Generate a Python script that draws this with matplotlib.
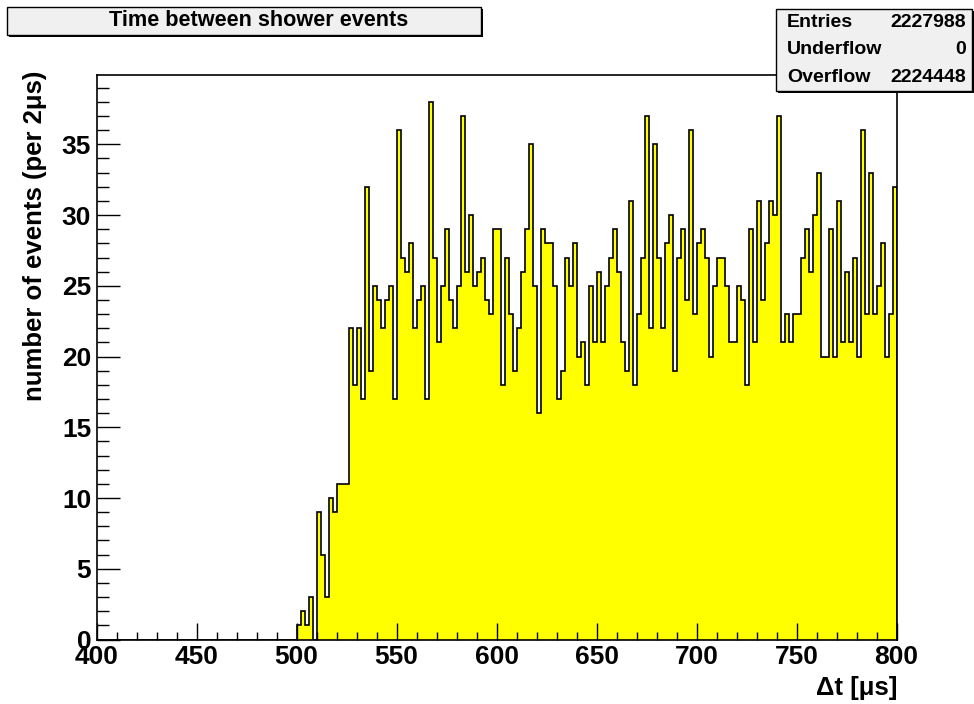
import numpy as np
import matplotlib
matplotlib.use("Agg")
import matplotlib.pyplot as plt
from matplotlib.patches import Rectangle


FIG_W, FIG_H = 974, 704

# histogram range and binning (2 us per bin)
T_MIN = 400
T_MAX = 800
BIN_WIDTH = 2

# counts per bin; bins from 400 to 500 are empty
counts_from_500 = [
    1, 2, 1, 3, 0, 9, 6, 3, 10, 9,
    11, 11, 11, 22, 18, 22, 17, 32, 19, 25,
    24, 22, 24, 25, 17, 36, 27, 26, 28, 22,
    24, 25, 17, 38, 27, 21, 25, 29, 24, 22,
    25, 37, 26, 30, 25, 26, 27, 24, 23, 29,
    29, 18, 27, 23, 19, 22, 26, 29, 35, 25,
    16, 29, 28, 28, 25, 17, 19, 27, 25, 28,
    20, 21, 18, 25, 21, 26, 21, 25, 27, 29,
    26, 21, 19, 31, 18, 23, 27, 37, 22, 35,
    27, 22, 28, 30, 19, 27, 29, 24, 36, 23,
    28, 29, 27, 20, 25, 27, 27, 25, 21, 21,
    25, 24, 18, 29, 21, 31, 24, 28, 31, 30,
    37, 21, 23, 21, 23, 23, 27, 29, 26, 30,
    33, 20, 20, 29, 20, 31, 21, 26, 21, 27,
    20, 36, 23, 33, 23, 25, 28, 20, 23, 32,
]
counts = [0] * 50 + counts_from_500

stat_labels = ["Entries", "Underflow", "Overflow"]
stat_values = ["2227988", "0", "2224448"]

TITLE = "Time between shower events"
X_TITLE = "\u0394t [\u03bcs]"
Y_TITLE = "number of events (per 2\u03bcs)"

FONT = "Liberation Sans"


def fx(x):
    return x / FIG_W


def fy(y):
    return 1 - y / FIG_H


def draw_box(fig, x0, y0, x1, y1):
    """Grey box with a dark shadow on the right and bottom edge."""
    w = fx(x1) - fx(x0)
    h = fy(y0) - fy(y1)
    shadow = Rectangle((fx(x0 + 2), fy(y1 + 2)), w, h, transform=fig.transFigure,
                       facecolor="black", edgecolor="none", zorder=5)
    box = Rectangle((fx(x0), fy(y1)), w, h, transform=fig.transFigure,
                    facecolor="#f0f0f0", edgecolor="black", linewidth=1.0, zorder=6)
    fig.add_artist(shadow)
    fig.add_artist(box)


def main():
    plt.rcParams["font.family"] = [FONT, "DejaVu Sans"]
    plt.rcParams["font.weight"] = "bold"

    fig = plt.figure(figsize=(FIG_W / 100, FIG_H / 100), dpi=100)
    ax = fig.add_axes([fx(96.7), fy(639.5), fx(896.5) - fx(96.7), fy(75) - fy(639.5)])

    edges = np.arange(T_MIN, T_MAX + BIN_WIDTH, BIN_WIDTH)
    ax.stairs(counts, edges, fill=True, color="#ffff00", baseline=0)
    ax.stairs(counts, edges, fill=False, color="black", linewidth=1.2, baseline=0)

    ax.set_xlim(T_MIN, T_MAX)
    ax.set_ylim(0, 1.05 * max(counts))

    ax.set_xticks(np.arange(400, 801, 50))
    ax.set_xticks(np.arange(400, 801, 10), minor=True)
    ax.set_yticks(np.arange(0, 36, 5))
    ax.set_yticks(np.arange(0, 40, 1), minor=True)

    ax.tick_params(axis="both", which="both", direction="in", top=False, right=False,
                   width=1.0, labelsize=19, colors="black")
    ax.tick_params(axis="x", which="major", length=12.2, pad=4)
    ax.tick_params(axis="x", which="minor", length=6.1)
    ax.tick_params(axis="y", which="major", length=16.6, pad=4)
    ax.tick_params(axis="y", which="minor", length=8.5)
    for lbl in ax.get_xticklabels() + ax.get_yticklabels():
        lbl.set_fontweight("bold")

    for side in ax.spines.values():
        side.set_linewidth(1.2)

    # axis titles, ROOT style: aligned to the far end of the axis
    fig.text(fx(897), fy(688), X_TITLE, ha="right", va="center", fontsize=18.5,
             fontweight="bold")
    fig.text(fx(35), fy(71), Y_TITLE, ha="center", va="top", rotation=90,
             fontsize=18.5, fontweight="bold")

    # histogram title box
    draw_box(fig, 7, 7, 481, 35)
    fig.text(fx(259), fy(21), TITLE, ha="center", va="center", fontsize=15.6,
             fontweight="bold", zorder=7)

    # statistics box
    draw_box(fig, 776, 9, 972, 91)
    row_h = (91 - 9) / len(stat_labels)
    for i, (name, val) in enumerate(zip(stat_labels, stat_values)):
        yc = 9 + row_h * (i + 0.5)
        fig.text(fx(787), fy(yc), name, ha="left", va="center", fontsize=14,
                 fontweight="bold", zorder=7)
        fig.text(fx(966), fy(yc), val, ha="right", va="center", fontsize=14,
                 fontweight="bold", zorder=7)

    fig.savefig("out.png", dpi=100, facecolor="white")


if __name__ == "__main__":
    main()
